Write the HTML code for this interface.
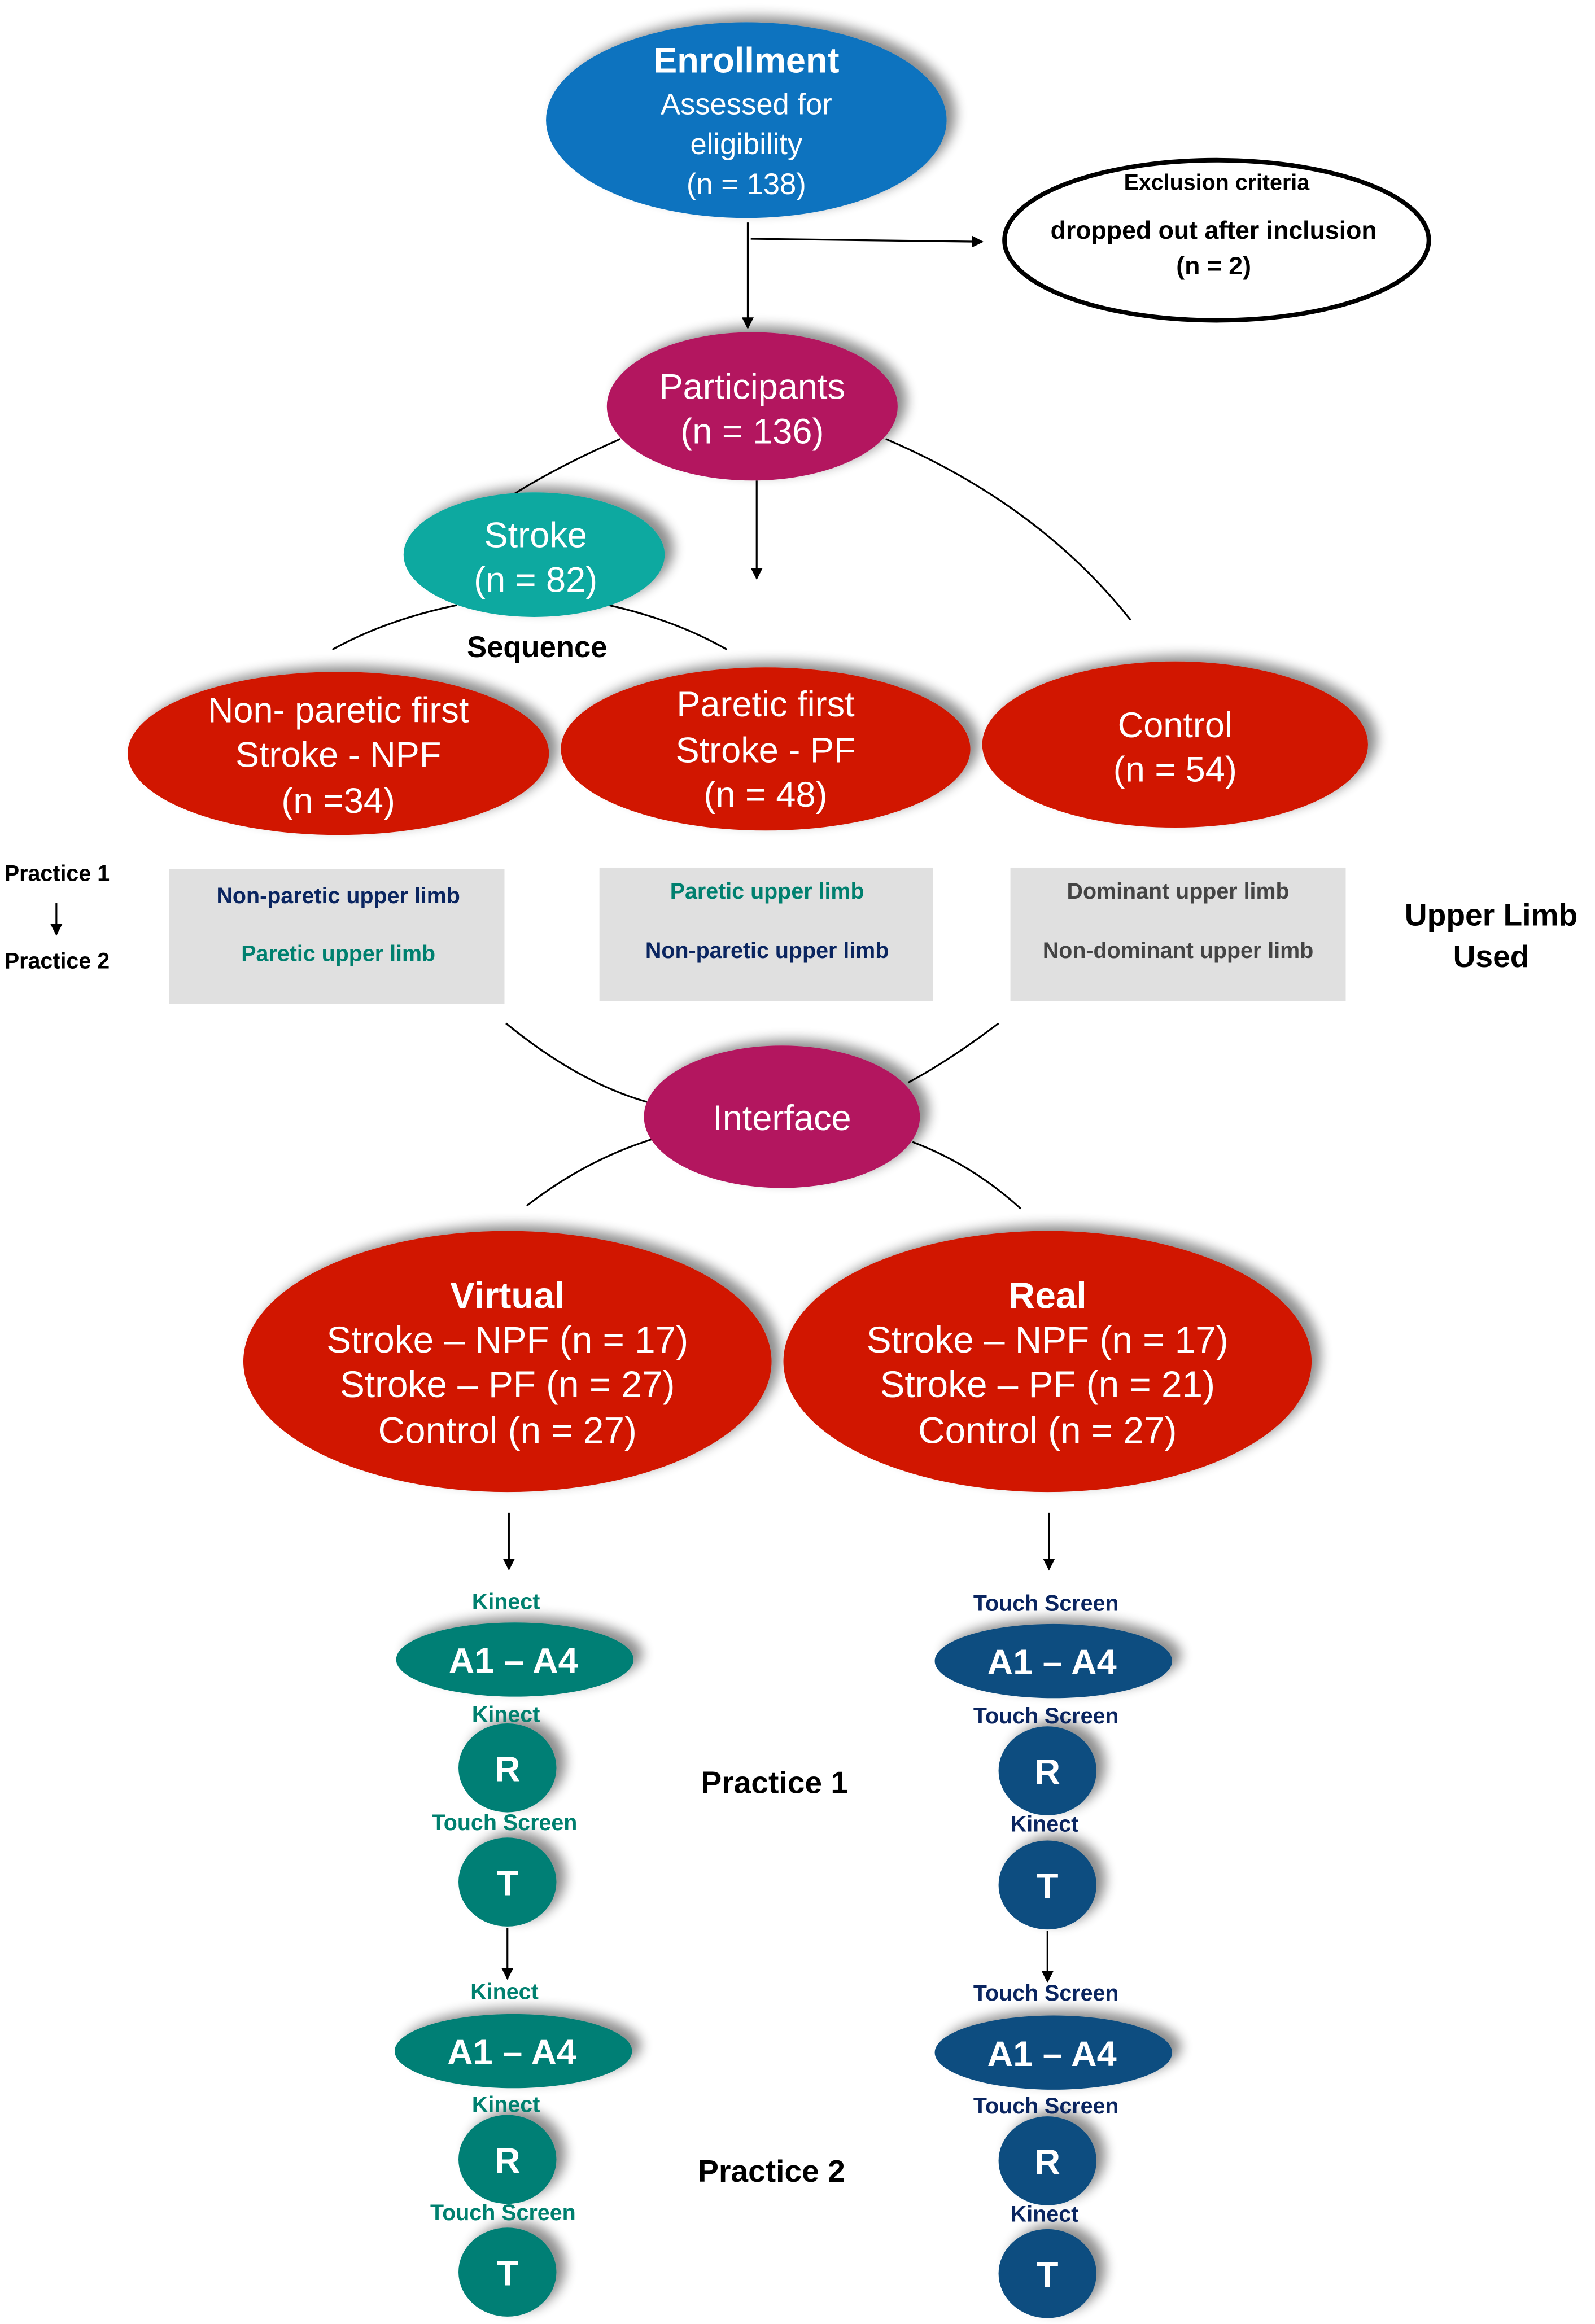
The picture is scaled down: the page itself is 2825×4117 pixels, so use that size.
<!DOCTYPE html>
<html><head><meta charset="utf-8">
<style>
html,body{margin:0;padding:0;background:#fff;}
svg{display:block;}
text{font-family:"Liberation Sans",Arial,sans-serif;}
</style></head>
<body>
<svg width="2825" height="4117" viewBox="0 0 1075 1567" preserveAspectRatio="none" xmlns="http://www.w3.org/2000/svg">
<defs>
<marker id="ah" markerWidth="8" markerHeight="8" refX="7" refY="4" orient="auto" markerUnits="userSpaceOnUse">
<path d="M0,0 L8,4 L0,8 Z" fill="#000"/></marker>
<filter id="sh" x="-20%" y="-20%" width="150%" height="150%">
<feGaussianBlur in="SourceAlpha" stdDeviation="4"/>
<feOffset dx="6" dy="-4" result="b"/>
<feComponentTransfer><feFuncA type="linear" slope="0.45"/></feComponentTransfer>
<feMerge><feMergeNode/><feMergeNode in="SourceGraphic"/></feMerge>
</filter>
</defs>
<rect width="1075" height="1567" fill="#fff"/>

<!-- connectors -->
<g stroke="#000" stroke-width="1.2" fill="none">
<line x1="504" y1="150" x2="504" y2="221" marker-end="url(#ah)"/>
<line x1="506" y1="161" x2="662" y2="163" marker-end="url(#ah)"/>
<line x1="510" y1="324" x2="510" y2="390" marker-end="url(#ah)"/>
<path d="M418,296 Q375,315 345,334"/>
<path d="M597,296 Q700,340 762,418"/>
<path d="M224,438 Q260,418 308,408"/>
<path d="M410,408 Q455,418 490,438"/>
<path d="M341,690 Q390,730 436,743"/>
<path d="M673,690 Q640,715 612,730"/>
<path d="M355,813 Q395,782 440,768"/>
<path d="M688,815 Q655,785 615,770"/>
<line x1="343" y1="1020" x2="343" y2="1058" marker-end="url(#ah)"/>
<line x1="707" y1="1020" x2="707" y2="1058" marker-end="url(#ah)"/>
<line x1="342" y1="1300" x2="342" y2="1334" marker-end="url(#ah)"/>
<line x1="706" y1="1302" x2="706" y2="1336" marker-end="url(#ah)"/>
<line x1="38" y1="609" x2="38" y2="630" marker-end="url(#ah)"/>
<line x1="228" y1="614" x2="228" y2="634" marker-end="url(#ah)"/>
<line x1="510" y1="612" x2="510" y2="631" marker-end="url(#ah)"/>
<line x1="795" y1="612" x2="795" y2="631" marker-end="url(#ah)"/>
</g>

<!-- ellipses -->
<g filter="url(#sh)">
<ellipse cx="503" cy="81" rx="135" ry="66" fill="#0A73BF"/>
<ellipse cx="507" cy="274" rx="98" ry="50" fill="#B3145F"/>
<ellipse cx="360" cy="374" rx="88" ry="42" fill="#0FA9A0"/>
<ellipse cx="228" cy="508" rx="142" ry="55" fill="#D11400"/>
<ellipse cx="516" cy="505" rx="138" ry="55" fill="#D11400"/>
<ellipse cx="792" cy="502" rx="130" ry="56" fill="#D11400"/>
<ellipse cx="527" cy="753" rx="93" ry="48" fill="#B3145F"/>
<ellipse cx="342" cy="918" rx="178" ry="88" fill="#D11400"/>
<ellipse cx="706" cy="918" rx="178" ry="88" fill="#D11400"/>
</g>
<ellipse cx="820" cy="162" rx="143" ry="54" fill="#fff" stroke="#000" stroke-width="3"/>

<g filter="url(#sh)">
<ellipse cx="347" cy="1119" rx="80" ry="25" fill="#007F74"/>
<ellipse cx="342" cy="1192" rx="33" ry="30" fill="#007F74"/>
<ellipse cx="342" cy="1269" rx="33" ry="30" fill="#007F74"/>
<ellipse cx="346" cy="1383" rx="80" ry="25" fill="#007F74"/>
<ellipse cx="342" cy="1456" rx="33" ry="30" fill="#007F74"/>
<ellipse cx="342" cy="1532" rx="33" ry="30" fill="#007F74"/>
<ellipse cx="710" cy="1120" rx="80" ry="25" fill="#0B4E80"/>
<ellipse cx="706" cy="1194" rx="33" ry="30" fill="#0B4E80"/>
<ellipse cx="706" cy="1271" rx="33" ry="30" fill="#0B4E80"/>
<ellipse cx="710" cy="1384" rx="80" ry="25" fill="#0B4E80"/>
<ellipse cx="706" cy="1457" rx="33" ry="30" fill="#0B4E80"/>
<ellipse cx="706" cy="1533" rx="33" ry="30" fill="#0B4E80"/>
</g>

<!-- gray boxes -->
<rect x="114" y="586" width="226" height="91" fill="#E0E0E0"/>
<rect x="404" y="585" width="225" height="90" fill="#E0E0E0"/>
<rect x="681" y="585" width="226" height="90" fill="#E0E0E0"/>

<!-- texts -->
<g fill="#fff" text-anchor="middle">
<text x="503" y="49" font-size="24" font-weight="bold">Enrollment</text>
<text x="503" y="77" font-size="20">Assessed for</text>
<text x="503" y="104" font-size="20">eligibility</text>
<text x="503" y="131" font-size="20">(n = 138)</text>
<text x="507" y="269" font-size="24">Participants</text>
<text x="507" y="299" font-size="24">(n = 136)</text>
<text x="361" y="369" font-size="24">Stroke</text>
<text x="361" y="399" font-size="24">(n = 82)</text>
<text x="228" y="487" font-size="24">Non- paretic first</text>
<text x="228" y="517" font-size="24">Stroke - NPF</text>
<text x="228" y="548" font-size="24">(n =34)</text>
<text x="516" y="483" font-size="24">Paretic first</text>
<text x="516" y="514" font-size="24">Stroke - PF</text>
<text x="516" y="544" font-size="24">(n = 48)</text>
<text x="792" y="497" font-size="24">Control</text>
<text x="792" y="527" font-size="24">(n = 54)</text>
<text x="527" y="762" font-size="24">Interface</text>
<text x="342" y="882" font-size="25" font-weight="bold">Virtual</text>
<text x="342" y="912" font-size="25">Stroke – NPF (n = 17)</text>
<text x="342" y="942" font-size="25">Stroke – PF (n = 27)</text>
<text x="342" y="973" font-size="25">Control (n = 27)</text>
<text x="706" y="882" font-size="25" font-weight="bold">Real</text>
<text x="706" y="912" font-size="25">Stroke – NPF (n = 17)</text>
<text x="706" y="942" font-size="25">Stroke – PF (n = 21)</text>
<text x="706" y="973" font-size="25">Control (n = 27)</text>
<g font-size="24" font-weight="bold">
<text x="346" y="1128">A1 – A4</text>
<text x="342" y="1201">R</text>
<text x="342" y="1278">T</text>
<text x="345" y="1392">A1 – A4</text>
<text x="342" y="1465">R</text>
<text x="342" y="1541">T</text>
<text x="709" y="1129">A1 – A4</text>
<text x="706" y="1203">R</text>
<text x="706" y="1280">T</text>
<text x="709" y="1393">A1 – A4</text>
<text x="706" y="1466">R</text>
<text x="706" y="1542">T</text>
</g>
</g>

<g text-anchor="middle" fill="#000">
<text x="820" y="128" font-size="15" font-weight="bold">Exclusion criteria</text>
<text x="818" y="161" font-size="17" font-weight="bold">dropped out after inclusion</text>
<text x="818" y="185" font-size="17" font-weight="bold">(n = 2)</text>
<text x="362" y="443" font-size="20" font-weight="bold">Sequence</text>
<text x="1005" y="624" font-size="21" font-weight="bold">Upper Limb</text>
<text x="1005" y="652" font-size="21" font-weight="bold">Used</text>
<text x="522" y="1209" font-size="21" font-weight="bold">Practice 1</text>
<text x="520" y="1471" font-size="21" font-weight="bold">Practice 2</text>
</g>
<g fill="#000" font-size="15" font-weight="bold">
<text x="3" y="594">Practice 1</text>
<text x="3" y="653">Practice 2</text>
</g>

<g text-anchor="middle" font-size="15" font-weight="bold">
<text x="228" y="609" fill="#0A2560">Non-paretic upper limb</text>
<text x="228" y="648" fill="#00806F">Paretic upper limb</text>
<text x="517" y="606" fill="#00806F">Paretic upper limb</text>
<text x="517" y="646" fill="#0A2560">Non-paretic upper limb</text>
<text x="794" y="606" fill="#444">Dominant upper limb</text>
<text x="794" y="646" fill="#444">Non-dominant upper limb</text>
</g>

<g text-anchor="middle" font-size="15" font-weight="bold" fill="#00806F">
<text x="341" y="1085">Kinect</text>
<text x="341" y="1161">Kinect</text>
<text x="340" y="1234">Touch Screen</text>
<text x="340" y="1348">Kinect</text>
<text x="341" y="1424">Kinect</text>
<text x="339" y="1497">Touch Screen</text>
</g>
<g text-anchor="middle" font-size="15" font-weight="bold" fill="#0A2560">
<text x="705" y="1086">Touch Screen</text>
<text x="705" y="1162">Touch Screen</text>
<text x="704" y="1235">Kinect</text>
<text x="705" y="1349">Touch Screen</text>
<text x="705" y="1425">Touch Screen</text>
<text x="704" y="1498">Kinect</text>
</g>
</svg>
</body></html>
